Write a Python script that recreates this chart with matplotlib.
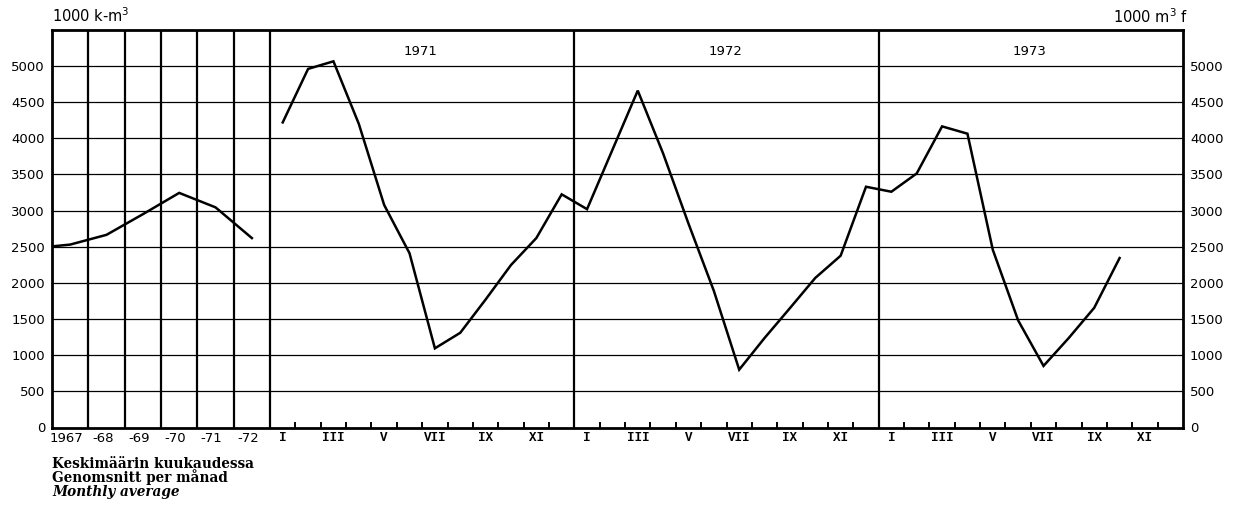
import matplotlib
matplotlib.use("Agg")
import matplotlib.pyplot as plt
import numpy as np

# ---------------- data ----------------
annual_labels = ['1967', '-68', '-69', '-70', '-71', '-72']
annual_values = [2530, 2665, 2950, 3245, 3045, 2620]
annual_lead_in = 2505  # value where the annual curve enters at the left edge

year_labels = ['1971', '1972', '1973']
month_labels = ['I', '', 'III', '', 'V', '', 'VII', '', 'IX', '', 'XI', '']
m1971 = [4220, 4960, 5065, 4200, 3078, 2410, 1095, 1310, 1770, 2247, 2620, 3225]
m1972 = [3020, 3840, 4660, 3790, 2820, 1890, 800, 1238, 1651, 2069, 2376, 3330]
m1973 = [3261, 3514, 4165, 4064, 2458, 1481, 852, 1240, 1656, 2344]
y_ticks = [0, 500, 1000, 1500, 2000, 2500, 3000, 3500, 4000, 4500, 5000]

# ---------------- layout ----------------
W, H = 1245, 516
fig = plt.figure(figsize=(W / 100, H / 100), dpi=100)
ax_l, ax_r, ax_t, ax_b = 52, 1183, 29.5, 427.5
ax = fig.add_axes([ax_l / W, 1 - ax_b / H, (ax_r - ax_l) / W, (ax_b - ax_t) / H])

ANN = 1.433                      # width of one annual column in month units
n_ann = len(annual_values)
X0 = n_ann * ANN                 # start of monthly section
n_years = len(year_labels)
XMAX = X0 + 12 * n_years
ax.set_xlim(0, XMAX)
ax.set_ylim(0, 5505)

# grid lines
for v in y_ticks[1:]:
    ax.axhline(v, color='black', lw=0.9, zorder=1)
# annual column separators
for i in range(1, n_ann + 1):
    ax.axvline(i * ANN, color='black', lw=1.6, zorder=2)
# year separators
for j in range(1, n_years):
    ax.axvline(X0 + 12 * j, color='black', lw=1.6, zorder=2)

# annual curve
ax_x = [0] + [(i + 0.5) * ANN for i in range(n_ann)]
ax.plot(ax_x, [annual_lead_in] + annual_values, color='black', lw=1.8,
        solid_joinstyle='miter', zorder=3)

# monthly curve
monthly = m1971 + m1972 + m1973
mx = [X0 + k + 0.5 for k in range(len(monthly))]
ax.plot(mx, monthly, color='black', lw=1.8, solid_joinstyle='miter', zorder=3)

# frame
for s in ax.spines.values():
    s.set_linewidth(2.0)
    s.set_color('black')

# y ticks both sides
ax.set_yticks(y_ticks)
ax.tick_params(axis='y', length=0, pad=5, labelsize=9.5, left=True, right=True,
               labelleft=True, labelright=True)
for lab in ax.get_yticklabels():
    lab.set_fontfamily('DejaVu Sans')

# x ticks: minor ticks at month boundaries, labels as text
ax.set_xticks([X0 + k for k in range(1, 12 * n_years)], minor=True)
ax.set_xticks([])
ax.tick_params(axis='x', which='minor', direction='in', length=4, width=1.4,
               bottom=True, top=False)

trans = ax.get_xaxis_transform()
for i, lab in enumerate(annual_labels):
    ax.text((i + 0.5) * ANN - 0.15, -0.012, lab, transform=trans, ha='center',
            va='top', fontsize=9.5, family='DejaVu Sans')
for j in range(n_years):
    for m, lab in enumerate(month_labels):
        if lab:
            ax.text(X0 + 12 * j + m + 0.5, -0.012, lab, transform=trans,
                    ha='center', va='top', fontsize=9, family='Liberation Mono',
                    fontweight='bold')
    ax.text(X0 + 12 * j + 6 - 0.05, 0.945, year_labels[j], transform=trans,
            ha='center', va='center', fontsize=9.5, family='DejaVu Sans')

# unit labels
fig.text(ax_l / W, 1 - 22 / H, '1000 k-m$^3$', ha='left', va='baseline',
         fontsize=10.5, family='DejaVu Sans')
fig.text(1188 / W, 1 - 23 / H, '1000 m$^3$ f', ha='right', va='baseline',
         fontsize=10.5, family='DejaVu Sans')

# footnote
fig.text(ax_l / W, 1 - 468 / H, 'Keskimäärin kuukaudessa', ha='left',
         va='baseline', fontsize=9.8, family='DejaVu Serif', fontweight='bold')
fig.text(ax_l / W, 1 - 482 / H, 'Genomsnitt per månad', ha='left',
         va='baseline', fontsize=9.8, family='DejaVu Serif', fontweight='bold')
fig.text(ax_l / W, 1 - 496 / H, 'Monthly average', ha='left',
         va='baseline', fontsize=9.8, family='DejaVu Serif', fontweight='bold',
         style='italic')

fig.savefig('out.png', dpi=100)
